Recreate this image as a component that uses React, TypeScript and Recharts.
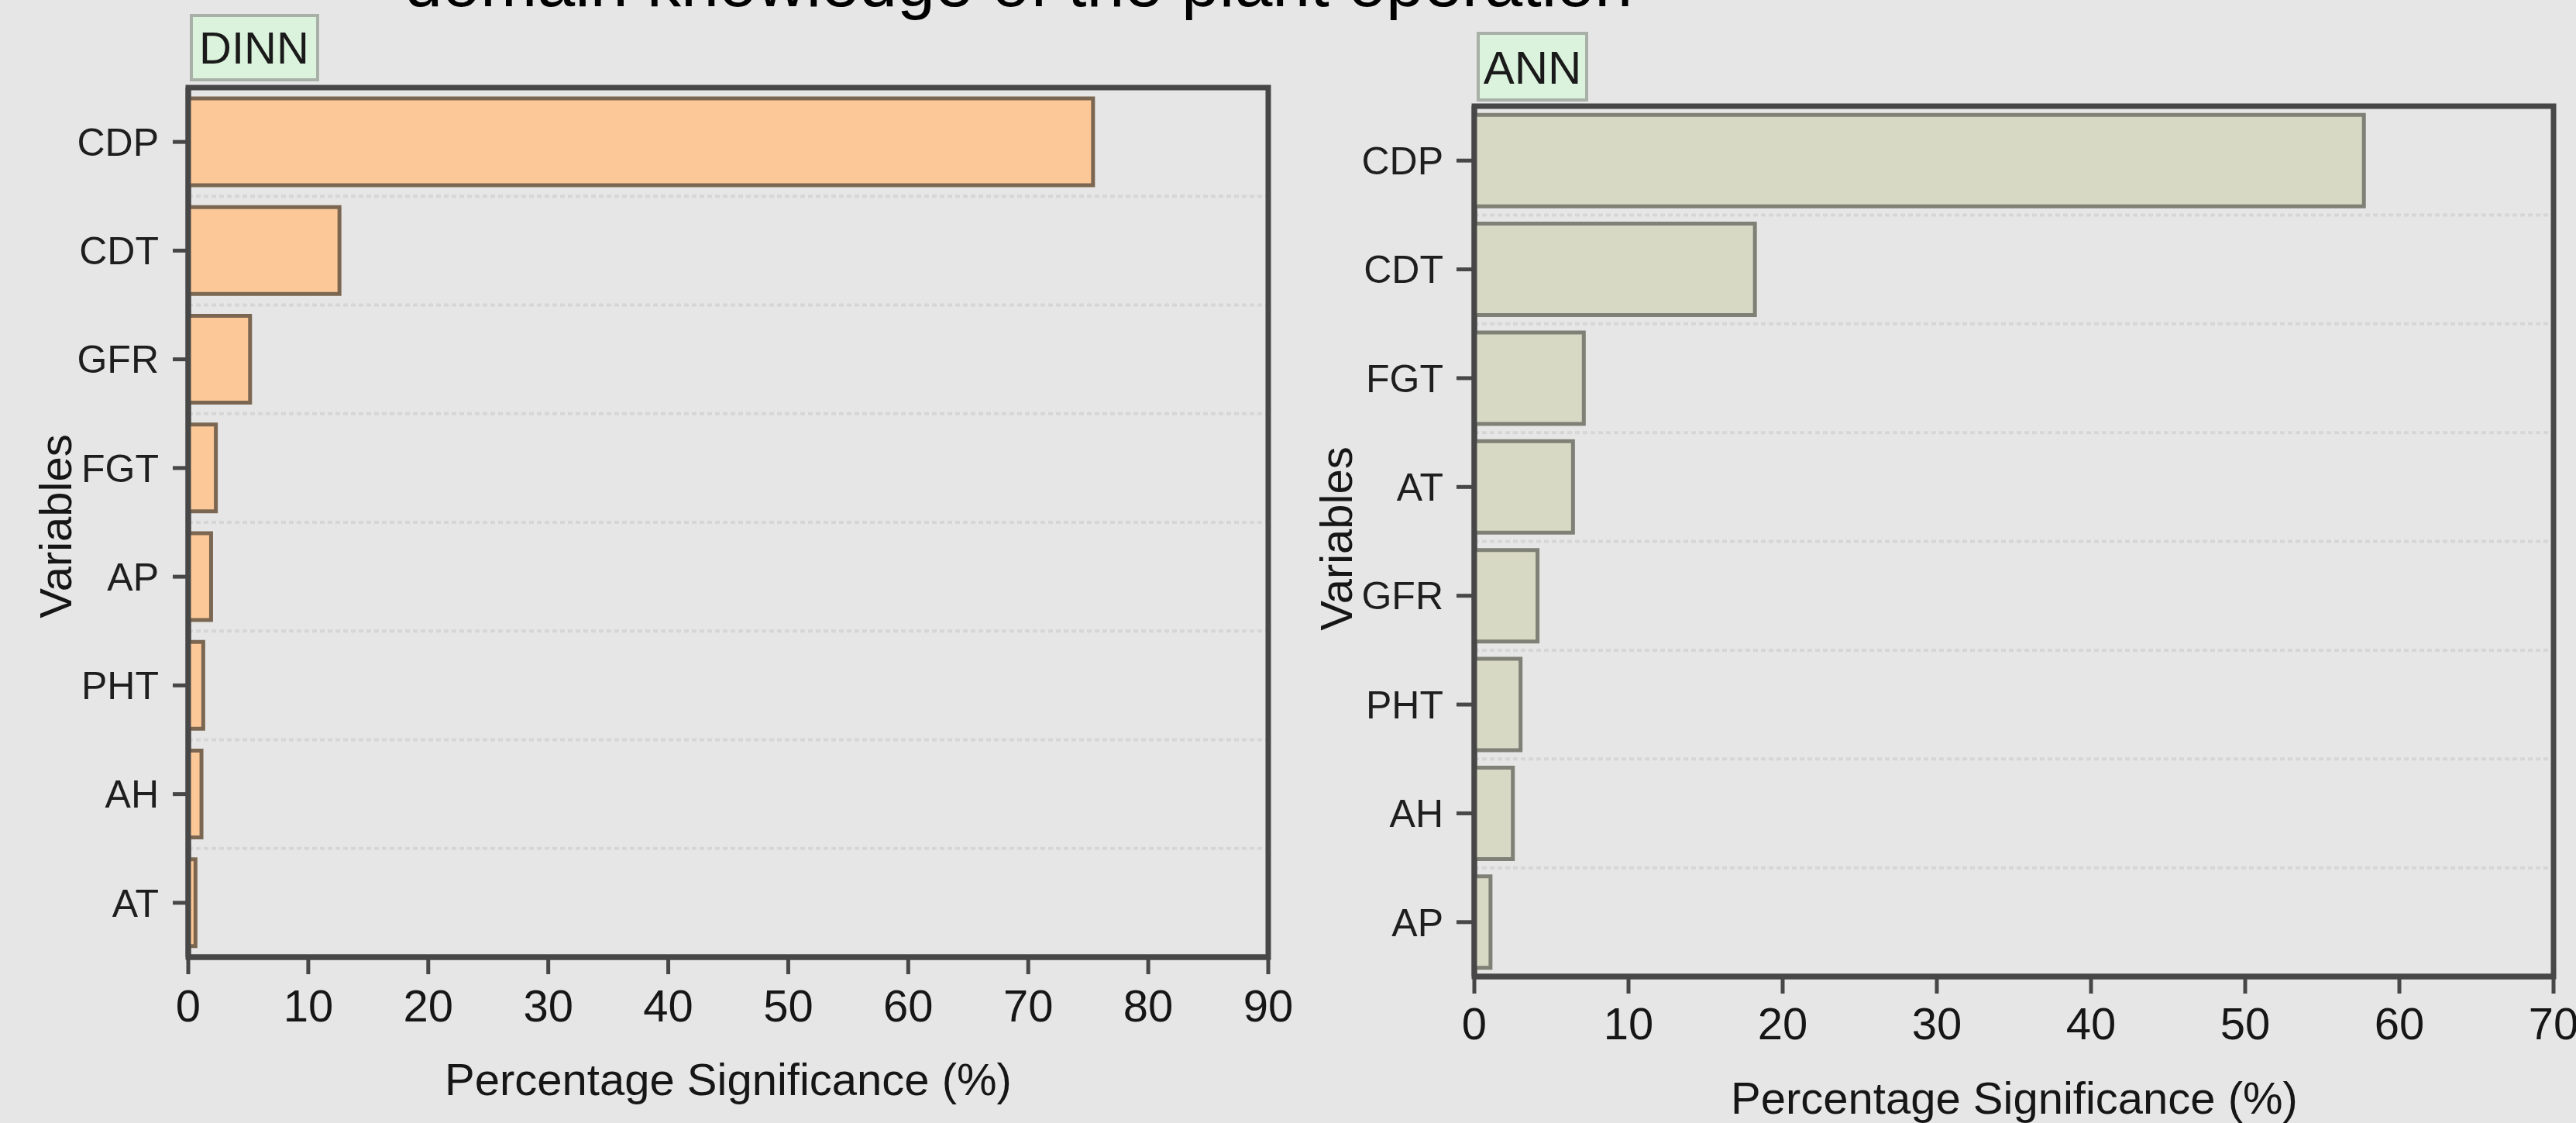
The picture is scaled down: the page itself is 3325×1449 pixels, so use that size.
import React from 'react';
import { BarChart, Bar, XAxis, YAxis, CartesianGrid, ReferenceArea } from 'recharts';

const FONT = '"Liberation Sans", Arial, Helvetica, sans-serif';

const dinnVariables = ['CDP', 'CDT', 'GFR', 'FGT', 'AP', 'PHT', 'AH', 'AT'];
const dinnValues = [75.4, 12.6, 5.15, 2.3, 1.9, 1.25, 1.1, 0.6];
const dinnTicks = [0, 10, 20, 30, 40, 50, 60, 70, 80, 90];

const annVariables = ['CDP', 'CDT', 'FGT', 'AT', 'GFR', 'PHT', 'AH', 'AP'];
const annValues = [57.7, 18.2, 7.1, 6.4, 4.1, 3.0, 2.5, 1.05];
const annTicks = [0, 10, 20, 30, 40, 50, 60, 70];

const AXIS = '#474747';

const XTick = (props: any) => {
  const { x, y, payload } = props;
  return (
    <text x={x} y={y} dy="0.71em" textAnchor="middle" fontSize={58} fill="#161616" fontFamily={FONT}>
      {payload.value}
    </text>
  );
};

const YTick = (props: any) => {
  const { x, y, payload } = props;
  return (
    <text x={x} y={y} dy="0.355em" textAnchor="end" fontSize={50} fill="#1e1e1e" fontFamily={FONT}>
      {payload.value}
    </text>
  );
};

type PanelProps = {
  variables: string[];
  values: number[];
  ticks: number[];
  left: number;
  width: number;
  margin: { top: number; right: number; bottom: number; left: number };
  yAxisWidth: number;
  fill: string;
  stroke: string;
  gap: string;
  xTickMargin: number;
  yTickSize: number;
  yTickMargin: number;
};

const Panel = (p: PanelProps) => {
  const data = p.variables.map((v, i) => ({ name: v, value: p.values[i] }));
  const max = p.ticks[p.ticks.length - 1];
  const n = data.length;
  return (
    <div style={{ position: 'absolute', left: p.left, top: 0, width: p.width, height: 1449 }}>
      <BarChart
        width={p.width}
        height={1449}
        data={data}
        layout="vertical"
        margin={p.margin}
        barCategoryGap={p.gap}
      >
        <CartesianGrid
          vertical={false}
          stroke="#d6d6d6"
          strokeWidth={4}
          strokeDasharray="6 4"
          horizontalCoordinatesGenerator={({ offset }: any) =>
            Array.from({ length: n - 1 }, (_, i) => offset.top + (offset.height * (i + 1)) / n)
          }
        />
        <Bar
          dataKey="value"
          fill={p.fill}
          stroke={p.stroke}
          strokeWidth={5}
          isAnimationActive={false}
        />
        <ReferenceArea x1={0} x2={max} fill="none" fillOpacity={0} stroke={AXIS} strokeWidth={7} ifOverflow="visible" />
        <XAxis
          type="number"
          domain={[0, max]}
          ticks={p.ticks}
          interval={0}
          height={60}
          tickSize={22}
          tickMargin={p.xTickMargin}
          axisLine={{ stroke: AXIS, strokeWidth: 7 }}
          tickLine={{ stroke: AXIS, strokeWidth: 5 }}
          tick={<XTick />}
        />
        <YAxis
          type="category"
          dataKey="name"
          width={p.yAxisWidth}
          interval={0}
          tickSize={p.yTickSize}
          tickMargin={p.yTickMargin}
          axisLine={{ stroke: AXIS, strokeWidth: 7 }}
          tickLine={{ stroke: AXIS, strokeWidth: 5 }}
          tick={<YTick />}
        />
      </BarChart>
    </div>
  );
};

export default function App() {
  return (
    <div
      style={{
        position: 'absolute',
        left: 0,
        top: 0,
        width: 3325,
        height: 1449,
        background: '#e6e6e6',
        overflow: 'hidden',
        fontFamily: FONT,
      }}
    >
      <Panel
        variables={dinnVariables}
        values={dinnValues}
        ticks={dinnTicks}
        left={0}
        width={1700}
        margin={{ top: 113, right: 63, bottom: 154, left: 0 }}
        yAxisWidth={243}
        fill="#fdc898"
        stroke="#7b6751"
        gap="10%"
        xTickMargin={20}
        yTickSize={20}
        yTickMargin={18}
      />
      <Panel
        variables={annVariables}
        values={annValues}
        ticks={annTicks}
        left={1650}
        width={1675}
        margin={{ top: 137, right: 29, bottom: 129, left: 0 }}
        yAxisWidth={253}
        fill="#d8d9c4"
        stroke="#7f8076"
        gap="8%"
        xTickMargin={18}
        yTickSize={23}
        yTickMargin={17}
      />
      <svg
        width={3325}
        height={1449}
        style={{ position: 'absolute', left: 0, top: 0, pointerEvents: 'none' }}
        fontFamily={FONT}
      >
        <text x={522} y={8} fontSize={88} fill="#000">domain knowledge of the plant operation</text>

        <rect x={247} y={20} width={163} height={83} fill="#dbf3dc" stroke="#a8b0a8" strokeWidth={4} />
        <text x={328} y={82} textAnchor="middle" fontSize={58} fill="#1a1a1a">DINN</text>

        <rect x={1908} y={43} width={140} height={86} fill="#dbf3dc" stroke="#a8b0a8" strokeWidth={4} />
        <text x={1978} y={108} textAnchor="middle" fontSize={60} fill="#1a1a1a">ANN</text>

        <text x={940} y={1413} textAnchor="middle" fontSize={58} fill="#161616">Percentage Significance (%)</text>
        <text x={2600} y={1437} textAnchor="middle" fontSize={58} fill="#161616">Percentage Significance (%)</text>

        <text x={92} y={679} textAnchor="middle" fontSize={58} fill="#161616" transform="rotate(-90 92 679)">Variables</text>
        <text x={1745} y={695} textAnchor="middle" fontSize={58} fill="#161616" transform="rotate(-90 1745 695)">Variables</text>
      </svg>
    </div>
  );
}
